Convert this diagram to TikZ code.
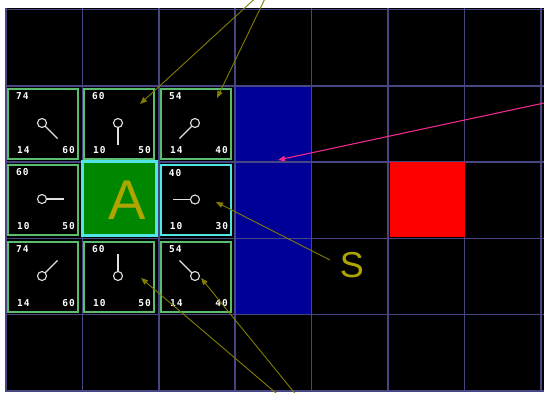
\documentclass[tikz,border=0pt]{standalone}
\usepackage{fontspec}
\setmainfont{Liberation Sans}
\newfontfamily\numfont{DejaVu Sans Mono Bold}[LetterSpace=10]
\usetikzlibrary{arrows.meta}
\definecolor{gridc}{RGB}{70,70,130}
\definecolor{wallc}{RGB}{0,0,150}
\definecolor{goalc}{RGB}{255,0,0}
\definecolor{cellg}{RGB}{90,190,110}
\definecolor{cellc}{RGB}{80,230,230}
\definecolor{afill}{RGB}{0,135,0}
\definecolor{olivet}{RGB}{175,165,0}
\definecolor{olivel}{RGB}{130,125,0}
\definecolor{pinkl}{RGB}{240,40,140}
\definecolor{ptrc}{RGB}{225,225,225}
\tikzset{
  gridline/.style={draw=gridc, line width=1.5pt},
  cellbox/.style={draw=cellg, fill=black, line width=2pt, minimum size=70pt, inner sep=0pt},
  cellcyan/.style={draw=cellc, fill=black, line width=2.5pt, minimum size=70pt, inner sep=0pt},
  cellstart/.style={draw=cellc, fill=afill, line width=3pt, minimum size=74pt, inner sep=0pt},
  wallbox/.style={fill=wallc, minimum width=77pt, minimum height=230pt, inner sep=0pt},
  goalbox/.style={fill=goalc, minimum size=75pt, inner sep=0pt},
  num/.style={text=white, font=\numfont\fontsize{9.5}{9.5}\selectfont, inner sep=0pt},
  ptr/.style={draw=ptrc, line width=1.1pt},
  bigletter/.style={text=olivet, inner sep=0pt},
  callout/.style={draw=olivel, line width=0.9pt, -{Triangle[length=7pt,width=5.5pt]}},
  pinkarrow/.style={draw=pinkl, line width=1.1pt, -{Triangle[length=7pt,width=5.5pt]}},
}
\begin{document}
\begin{tikzpicture}[x=1pt,y=-1pt]
\useasboundingbox (0,0) rectangle (544,392);
\clip (0,0) rectangle (544,392);
\fill[white] (0,0) rectangle (544,392);
\fill[black] (6,8) rectangle (544,392);
% wall
\node[wallbox] (wall) at (273.5,200) {};
% grid
\foreach \i in {0,...,7} \draw[gridline] (6+76.4*\i,8) -- (6+76.4*\i,392);
\foreach \j in {0,...,5} \draw[gridline] (6,9.5+76.3*\j) -- (544,9.5+76.3*\j);
% goal
\node[goalbox] (goal) at (427.5,199.5) {};
% cells
\node[cellbox] (c00) at (43,123.5) {};
\node[cellbox] (c10) at (119,123.5) {};
\node[cellbox] (c20) at (196,123.5) {};
\node[cellbox] (c01) at (43,199.5) {};
\node[cellstart] (cA) at (119.5,198.5) {};
\node[cellcyan] (c21) at (196,200) {};
\node[cellbox] (c02) at (43,276.5) {};
\node[cellbox] (c12) at (119,276.5) {};
\node[cellbox] (c22) at (196,276.5) {};
\node[bigletter, font=\fontsize{56}{56}\selectfont] (Alabel) at (127,200) {A};
% numbers
\foreach \c/\a/\b/\d in {c00/74/14/60, c10/60/10/50, c20/54/14/40, c01/60/10/50, c21/40/10/30, c02/74/14/60, c12/60/10/50, c22/54/14/40} {
  \node[num, anchor=north west] (\c-f) at ([shift={(9,5)}]\c.north west) {\a};
  \node[num, anchor=south west] (\c-g) at ([shift={(10,-6)}]\c.south west) {\b};
  \node[num, anchor=south east] (\c-h) at ([shift={(-4,-6)}]\c.south east) {\d};
}
% pointers
\foreach \c/\dx/\dy in {c00/0.7071/0.7071, c10/0/1, c20/-0.7071/0.7071, c01/1/0, c21/-1/0, c02/0.7071/-0.7071, c12/0/-1, c22/-0.7071/-0.7071} {
  \draw[ptr] ([shift={(-1,-0.5)}]\c.center) circle[radius=4.5pt];
  \draw[ptr] ([shift={({-1+4.5*\dx},{-0.5+4.5*\dy})}]\c.center) -- ([shift={({-1+22*\dx},{-0.5+22*\dy})}]\c.center);
}
% label S
\node[bigletter, font=\fontsize{36}{36}\selectfont] (S) at (352,265) {S};
% callout arrows
\coordinate (topsrc) at (273,-18);
\coordinate (botsrc) at (337,445);
\coordinate (pinksrc) at (560,99.6);
\coordinate (t1) at ([shift={(21,-19.5)}]c10.center);
\coordinate (t2) at ([shift={(21,-25.5)}]c20.center);
\coordinate (t3) at ([shift={(20,2)}]c21.center);
\coordinate (t4) at ([shift={(22,1.5)}]c12.center);
\coordinate (t5) at ([shift={(5,1.5)}]c22.center);
\coordinate (t6) at ([shift={(4.5,-40)}]wall.center);
\draw[callout] (topsrc) -- (t1);
\draw[callout] (topsrc) -- (t2);
\draw[callout, shorten <=11pt] (S.west) -- (t3);
\draw[callout] (botsrc) -- (t4);
\draw[callout] (botsrc) -- (t5);
\draw[pinkarrow] (pinksrc) -- (t6);
\end{tikzpicture}
\end{document}
